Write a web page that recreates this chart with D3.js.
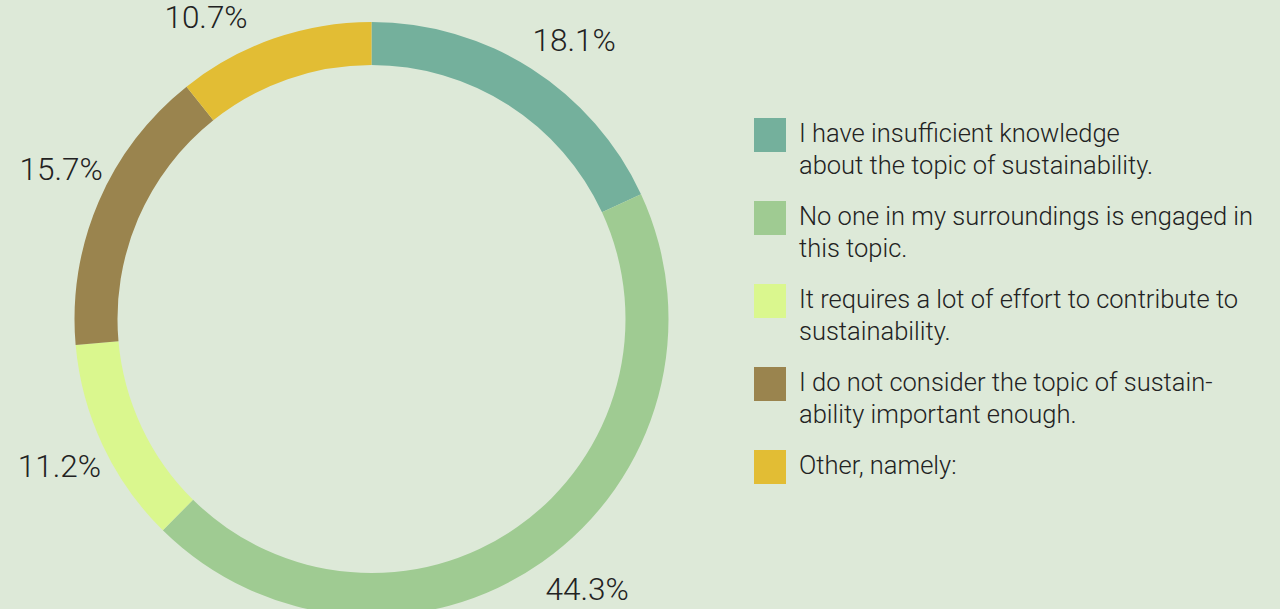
<!DOCTYPE html>
<html>
<head>
<meta charset="utf-8">
<script src="https://cdn.jsdelivr.net/npm/d3@7"></script>
<style>
  html, body { margin: 0; padding: 0; background: #dde9d8; }
  svg { display: block; font-family: Roboto, "Noto Sans", sans-serif; }
  .pct { font-size: 31.5px; font-weight: 300; fill: #222; }
  .leg { font-size: 25.5px; font-weight: 300; fill: #222; }
</style>
</head>
<body>
<svg width="1280" height="609"></svg>
<script>
// survey answers, in clockwise order from the top
var answers = [
    ["I have insufficient knowledge", "about the topic of sustainability."],
    ["No one in my surroundings is engaged in", "this topic."],
    ["It requires a lot of effort to contribute to", "sustainability."],
    ["I do not consider the topic of sustain-", "ability important enough."],
    ["Other, namely:"]
];
var shares = [18.1, 44.3, 11.2, 15.7, 10.7];
var colours = ["#74b09c", "#9fcb92", "#daf78e", "#9a844e", "#e2bd34"];

// small turn (degrees) for each label off its slice middle, so it stays in view
var labelTurn = [3.4, -3.6, 0, 2.7, -9.4];

var svg = d3.select("svg"),
    cx = 371.5, cy = 319,
    outer = 297, inner = 254, labelR = 345;

var pie = d3.pie().sort(null).value(function (d) { return d; });
var arcs = pie(shares);

var ring = d3.arc().innerRadius(inner).outerRadius(outer);

var g = svg.append("g")
    .attr("transform", "translate(" + cx + "," + cy + ")");

// donut slices
g.selectAll("path")
    .data(arcs)
    .enter().append("path")
    .attr("d", ring)
    .attr("fill", function (d, i) { return colours[i]; });

// percentage labels
g.selectAll("text")
    .data(arcs)
    .enter().append("text")
    .attr("class", "pct")
    .attr("text-anchor", "middle")
    .attr("dy", "0.36em")
    .attr("transform", function (d, i) {
        var a = (d.startAngle + d.endAngle) / 2 + labelTurn[i] * Math.PI / 180;
        return "translate(" + d3.pointRadial(a, labelR) + ")";
    })
    .text(function (d) { return d.data.toFixed(1) + "%"; });

// legend
var legend = svg.append("g")
    .attr("transform", "translate(754,118)");

var item = legend.selectAll("g")
    .data(answers)
    .enter().append("g")
    .attr("transform", function (d, i) { return "translate(0," + i * 83 + ")"; });

item.append("rect")
    .attr("width", 32)
    .attr("height", 34)
    .attr("fill", function (d, i) { return colours[i]; });

item.append("text")
    .attr("class", "leg")
    .selectAll("tspan")
    .data(function (d) { return d; })
    .enter().append("tspan")
    .attr("x", 45)
    .attr("y", function (d, i) { return 24 + i * 31.5; })
    .text(function (d) { return d; });
</script>
</body>
</html>
